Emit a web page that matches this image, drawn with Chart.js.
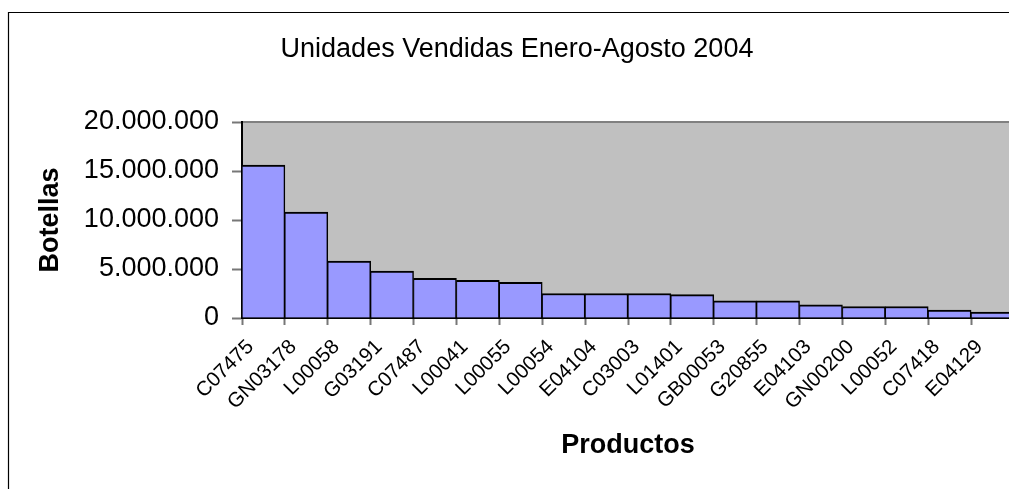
<!DOCTYPE html>
<html>
<head>
<meta charset="utf-8">
<title>Unidades Vendidas Enero-Agosto 2004</title>
<script src="https://cdn.jsdelivr.net/npm/chart.js@4.4.0/dist/chart.umd.min.js"></script>
<style>
body { margin: 0; background: #fff; overflow: hidden; }
canvas { display: block; }
</style>
</head>
<body>
<canvas id="barChart" width="1024" height="489"></canvas>
<script>
var productos = ["C07475", "GN03178", "L00058", "G03191", "C07487", "L00041", "L00055", "L00054", "E04104",
                 "C03003", "L01401", "GB00053", "G20855", "E04103", "GN00200", "L00052", "C07418", "E04129"];
var botellas = [15600000, 10800000, 5800000, 4800000, 4050000, 3850000, 3650000, 2500000, 2500000,
                2500000, 2380000, 1750000, 1750000, 1350000, 1170000, 1170000, 800000, 600000];
var marcasEje = [0, 5000000, 10000000, 15000000, 20000000];

var fuente = 'Arial, "Liberation Sans", sans-serif';

// 20000000 -> 20.000.000
function conPuntos(v) {
    return String(v).replace(/\B(?=(\d{3})+(?!\d))/g, '.');
}

/* marco exterior y fondo gris del area de trazado */
var fondoExcel = {
    id: 'fondoExcel',
    beforeDraw: function(chart) {
        var c = chart.ctx, a = chart.chartArea;
        c.save();
        c.fillStyle = '#fff';
        c.fillRect(0, 0, chart.width, chart.height);
        c.strokeStyle = '#000';
        c.lineWidth = 1.2;
        c.beginPath();
        c.moveTo(8.5, chart.height);
        c.lineTo(8.5, 12.5);
        c.lineTo(chart.width, 12.5);
        c.stroke();
        c.fillStyle = '#C0C0C0';
        c.fillRect(a.left, a.top, a.right - a.left, a.bottom - a.top);
        c.strokeStyle = '#808080';
        c.lineWidth = 2;
        c.beginPath();
        c.moveTo(a.left, a.top);
        c.lineTo(a.right, a.top);
        c.stroke();
        c.restore();
    }
};

var ctx = document.getElementById('barChart');
var grafico = new Chart(ctx, {
    type: 'bar',
    data: {
        labels: productos,
        datasets: [{
            label: "Botellas",
            data: botellas,
            backgroundColor: '#9999FF',
            borderColor: '#000',
            borderWidth: { top: 2, left: 1, right: 1.5, bottom: 0 },
            borderSkipped: false,
            barPercentage: 1,
            categoryPercentage: 1
        }]
    },
    options: {
        responsive: false,
        animation: false,
        devicePixelRatio: 1,
        layout: { padding: { left: 20, right: 10, top: 0, bottom: 0 } },
        plugins: {
            legend: { display: false },
            tooltip: { enabled: false },
            title: {
                display: true,
                text: 'Unidades Vendidas Enero-Agosto 2004',
                color: '#000',
                font: { family: fuente, size: 27, weight: 'normal', lineHeight: 1.2 },
                padding: { top: 33, bottom: 56.6 }
            }
        },
        scales: {
            x: {
                grid: { offset: true, drawOnChartArea: false, tickLength: 7, tickColor: '#777', tickWidth: 2 },
                border: { color: '#000', width: 2 },
                ticks: {
                    color: '#000',
                    font: { family: fuente, size: 20.5 },
                    minRotation: 45,
                    maxRotation: 45,
                    autoSkip: false,
                    labelOffset: -13,
                    padding: 10
                },
                title: {
                    display: true,
                    text: 'Productos',
                    color: '#000',
                    font: { family: fuente, size: 27, weight: 'bold', lineHeight: 1.2 },
                    padding: { top: 0, bottom: 27 }
                },
                afterFit: function(scale) { scale.height = 171; }
            },
            y: {
                min: marcasEje[0],
                max: marcasEje[marcasEje.length - 1],
                afterBuildTicks: function(scale) {
                    scale.ticks = marcasEje.map(function(v) { return { value: v }; });
                },
                grid: { drawOnChartArea: false, tickLength: 10, tickColor: '#777', tickWidth: 2 },
                border: { color: '#000', width: 2 },
                ticks: {
                    color: '#000',
                    font: { family: fuente, size: 27 },
                    padding: 13,
                    callback: function(v) { return conPuntos(v); }
                },
                title: {
                    display: true,
                    text: 'Botellas',
                    color: '#000',
                    font: { family: fuente, size: 27, weight: 'bold', lineHeight: 1.2 },
                    padding: { top: 14, bottom: 0 }
                },
                afterFit: function(scale) { scale.width = 222; }
            }
        }
    },
    plugins: [fondoExcel]
});
</script>
</body>
</html>
